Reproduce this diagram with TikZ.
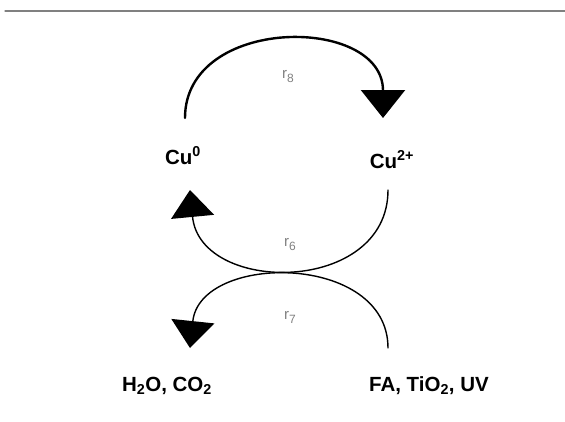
\documentclass[tikz,border=0pt]{standalone}
\usepackage{fontspec}
\setmainfont{Liberation Sans}
\usetikzlibrary{arrows.meta}
\newcommand{\ratesub}[1]{\raisebox{-4pt}{\fontsize{12}{14}\selectfont #1}}
\begin{document}
\begin{tikzpicture}[x=1pt, y=-1pt, line cap=round,
  every node/.style={font=\fontsize{20.5}{24}\selectfont\bfseries, inner sep=2pt},
  rate/.style={font=\fontsize{15}{17}\selectfont, text=black!50},
  toparc/.style={line width=2.4pt, -{Triangle[width=44pt,length=28pt]}},
  lowarc/.style={line width=1.4pt, -{Triangle[width=43pt,length=27pt]}}]
  \useasboundingbox (0,0) rectangle (565,421);
  \draw[line width=1.3pt, gray] (5,11) -- (565,11);
  % species
  \node[anchor=base] (cu0) at (183,164) {Cu\textsuperscript{0}};
  \node[anchor=base] (cu2) at (392,168) {Cu\textsuperscript{2+}};
  \node[anchor=base] (prod) at (167,391) {H\textsubscript{2}O, CO\textsubscript{2}};
  \node[anchor=base] (reac) at (429,391) {FA, TiO\textsubscript{2}, UV};
  % rate labels
  \node[rate] (r8) at (288,77) {r\ratesub{8}};
  \node[rate] (r6) at (290,245) {r\ratesub{6}};
  \node[rate] (r7) at (290,317) {r\ratesub{7}};
  % arcs
  \draw[toparc] ([shift={(2pt,46pt)}]cu0.base) .. controls +(0,-103) and +(0,-103) .. ([shift={(-9pt,50pt)}]cu2.base);
  \draw[lowarc] ([shift={(-4pt,-22pt)}]cu2.base) .. controls +(0,105) and +(10,105) .. ([shift={(7pt,-26pt)}]cu0.base);
  \draw[lowarc] ([shift={(-41pt,43pt)}]reac.base) .. controls +(0,-95.5) and +(10,-95.5) .. ([shift={(23pt,43pt)}]prod.base);
\end{tikzpicture}
\end{document}
